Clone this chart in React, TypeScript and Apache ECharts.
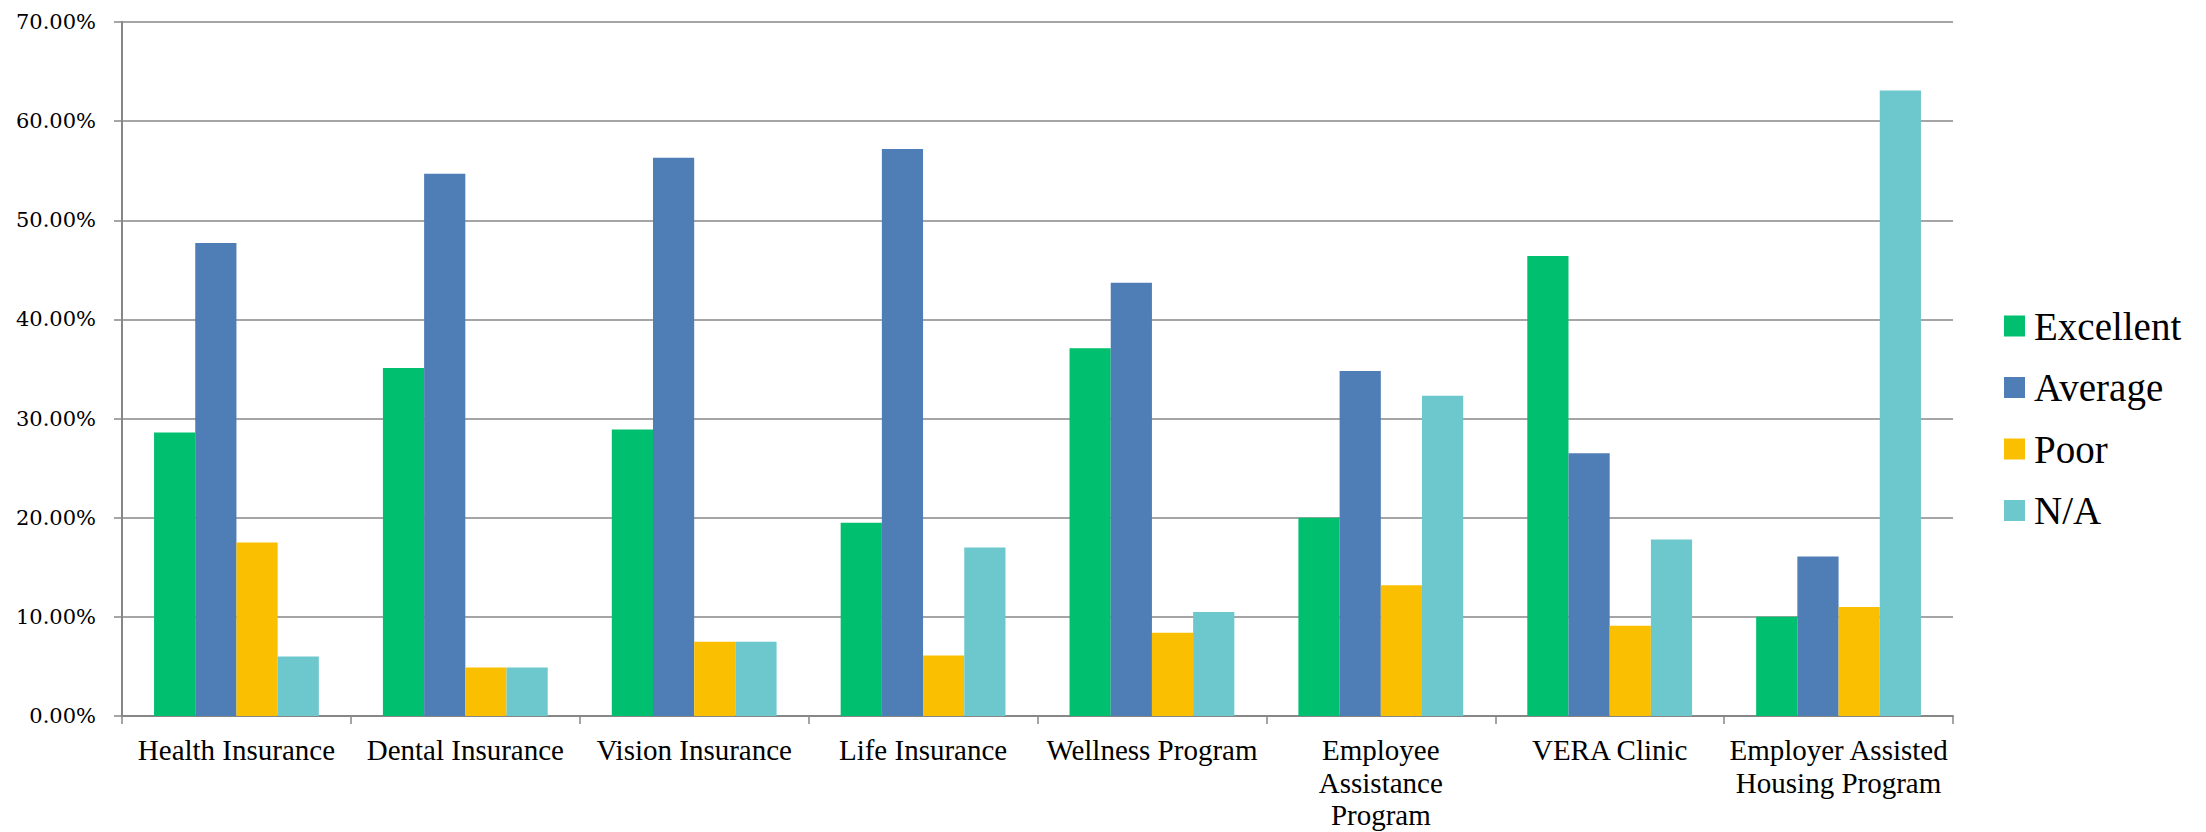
import React, { useEffect, useRef } from "react";
import * as echarts from "echarts";

const categoryLabels = [
  "Health Insurance",
  "Dental Insurance",
  "Vision Insurance",
  "Life Insurance",
  "Wellness Program",
  "Employee\nAssistance\nProgram",
  "VERA Clinic",
  "Employer Assisted\nHousing Program",
];

const seriesNames = ["Excellent", "Average", "Poor", "N/A"];
const excellent = [28.6, 35.1, 28.9, 19.5, 37.1, 20.0, 46.4, 10.0];
const average = [47.7, 54.7, 56.3, 57.2, 43.7, 34.8, 26.5, 16.1];
const poor = [17.5, 4.9, 7.5, 6.1, 8.4, 13.2, 9.1, 11.0];
const notApplicable = [6.0, 4.9, 7.5, 17.0, 10.5, 32.3, 17.8, 63.1];
const colors = ["#00BF6F", "#4F7DB5", "#F9BF00", "#6CC8CD"];

const FONT = "Liberation Serif, serif";
const NUM_FONT = "DejaVu Serif, serif";

export default function App() {
  const ref = useRef<HTMLDivElement>(null);
  useEffect(() => {
    if (!ref.current) return;
    const chart = echarts.init(ref.current, null, { renderer: "svg" });
    const values = [excellent, average, poor, notApplicable];
    chart.setOption({
      animation: false,
      backgroundColor: "#ffffff",
      color: colors,
      textStyle: { fontFamily: FONT, color: "#000" },
      grid: { left: 122, right: 253, top: 22, bottom: 116, containLabel: false },
      legend: {
        orient: "vertical",
        left: 1999,
        top: 301,
        itemWidth: 21,
        itemHeight: 21,
        itemGap: 21.5,
        icon: "rect",
        data: seriesNames,
        textStyle: {
          fontFamily: FONT,
          fontSize: 39,
          color: "#000",
          lineHeight: 40,
          padding: [0, 0, 0, 4],
        },
      },
      xAxis: {
        type: "category",
        data: categoryLabels,
        axisLine: { lineStyle: { color: "#878787", width: 2 } },
        axisTick: { show: true, length: 8, lineStyle: { color: "#878787", width: 1.5 } },
        axisLabel: {
          interval: 0,
          margin: 18,
          fontFamily: FONT,
          fontSize: 29,
          lineHeight: 32.5,
          color: "#000",
          align: "center",
        },
        splitLine: { show: false },
      },
      yAxis: {
        type: "value",
        min: 0,
        max: 70,
        interval: 10,
        axisLine: { show: true, lineStyle: { color: "#878787", width: 2 } },
        axisTick: { show: true, length: 8, lineStyle: { color: "#878787", width: 1.5 } },
        axisLabel: {
          margin: 26,
          fontFamily: NUM_FONT,
          fontSize: 21,
          color: "#000",
          formatter: (v: number) => v.toFixed(2) + "%",
        },
        splitLine: { show: true, lineStyle: { color: "#878787", width: 1.5 } },
      },
      series: seriesNames.map((name, i) => ({
        name,
        type: "bar",
        data: values[i],
        barGap: "0%",
        barCategoryGap: "28%",
        itemStyle: { color: colors[i] },
      })),
    });
    return () => chart.dispose();
  }, []);
  return (
    <div
      ref={ref}
      style={{ position: "fixed", left: 0, top: 0, width: 2206, height: 832 }}
    />
  );
}
